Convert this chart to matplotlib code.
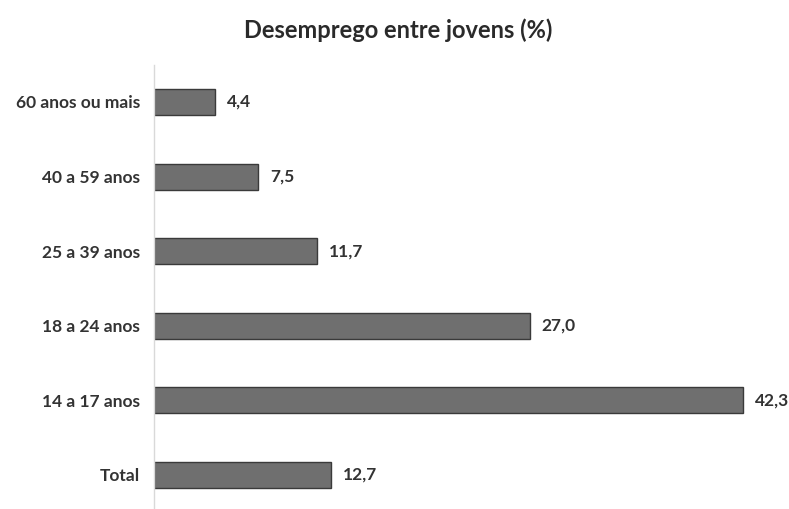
import matplotlib
matplotlib.use("Agg")
import matplotlib.pyplot as plt

categories = ["Total", "14 a 17 anos", "18 a 24 anos", "25 a 39 anos", "40 a 59 anos", "60 anos ou mais"]
values = [12.7, 42.3, 27.0, 11.7, 7.5, 4.4]
title = "Desemprego entre jovens (%)"

plt.rcParams['font.family'] = ['Lato', 'DejaVu Sans']

fig = plt.figure(figsize=(7.89, 5.09), dpi=100)
W, H = 789, 509
ax = fig.add_axes([154 / W, 0, (785 - 154) / W, (509 - 65) / H])

ypos = list(range(len(categories)))
ax.barh(ypos, values, height=0.35, color="#6f6f6f", edgecolor="#3a3a3a", linewidth=1.0)

ax.set_xlim(0, 631 / 13.92)
ax.set_ylim(-0.456, 5.496)
ax.set_yticks(ypos)
ax.set_yticklabels(categories, fontsize=12.5, fontweight="bold", color="#333333")
ax.tick_params(axis="y", length=0, pad=10)
ax.set_xticks([])
for s in ["top", "right", "bottom"]:
    ax.spines[s].set_visible(False)
ax.spines["left"].set_color("#d9d9d9")
ax.spines["left"].set_linewidth(1.0)

for y, v in zip(ypos, values):
    ax.text(v + 0.85, y, f"{v:.1f}".replace(".", ","), va="center", ha="left",
            fontsize=12.5, fontweight="bold", color="#333333")

fig.text(398 / W, 1 - 30 / H, title, ha="center", va="center",
         fontsize=17, fontweight="bold", color="#2a2a2a")

fig.savefig("out.png", dpi=100, facecolor="white")
